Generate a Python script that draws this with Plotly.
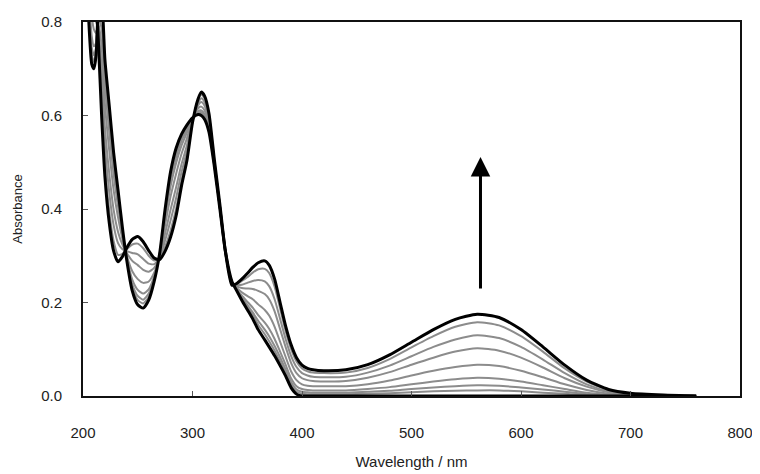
import plotly.graph_objects as go

wavelength = [200, 204, 208, 210, 212, 214, 217, 220, 224, 228,
              232, 236, 240, 245, 250, 255, 260, 265, 270, 275,
              280, 285, 290, 295, 300, 305, 308, 311, 315, 320,
              325, 330, 336, 340, 345, 350, 355, 360, 366, 370,
              375, 380, 385, 390, 395, 400, 405, 410, 420, 440,
              460, 480, 500, 520, 540, 560, 580, 600, 620, 640,
              660, 680, 700, 730, 760]

initial = [1.00, 0.86, 0.71, 0.70, 0.73, 0.82, 0.84, 0.72, 0.62, 0.52,
           0.44, 0.36, 0.29, 0.225, 0.195, 0.188, 0.205, 0.245, 0.305, 0.40,
           0.48, 0.53, 0.56, 0.58, 0.595, 0.602, 0.600, 0.592, 0.565, 0.49,
           0.40, 0.31, 0.245, 0.227, 0.205, 0.185, 0.165, 0.142, 0.120, 0.105,
           0.086, 0.065, 0.043, 0.018, 0.004, 0.0, 0.0, 0.0, 0.0, 0.0,
           0.0, 0.0, 0.0, 0.0, 0.0, 0.0, 0.0, 0.0, 0.0, 0.0,
           0.0, 0.0, 0.0, 0.0, 0.0]

grey1 = [1.014, 0.877, 0.729, 0.715, 0.738, 0.816, 0.823, 0.703, 0.603, 0.505,
         0.429, 0.356, 0.292, 0.233, 0.205, 0.198, 0.212, 0.249, 0.304, 0.394,
         0.470, 0.520, 0.552, 0.575, 0.594, 0.604, 0.604, 0.596, 0.568, 0.491,
         0.401, 0.310, 0.244, 0.228, 0.208, 0.190, 0.173, 0.152, 0.132, 0.117,
         0.097, 0.074, 0.050, 0.024, 0.009, 0.005, 0.004, 0.004, 0.004, 0.004,
         0.005, 0.006, 0.008, 0.010, 0.011, 0.012, 0.012, 0.010, 0.007, 0.005,
         0.002, 0.001, 0.000, 0.000, 0.000]

grey2 = [1.026, 0.891, 0.745, 0.729, 0.746, 0.812, 0.809, 0.688, 0.588, 0.493,
         0.420, 0.352, 0.294, 0.239, 0.214, 0.206, 0.219, 0.252, 0.303, 0.388,
         0.462, 0.511, 0.546, 0.570, 0.594, 0.606, 0.607, 0.599, 0.570, 0.492,
         0.401, 0.310, 0.244, 0.229, 0.211, 0.195, 0.179, 0.161, 0.142, 0.128,
         0.107, 0.083, 0.057, 0.030, 0.014, 0.009, 0.008, 0.007, 0.007, 0.007,
         0.009, 0.011, 0.015, 0.018, 0.021, 0.023, 0.022, 0.018, 0.014, 0.009,
         0.004, 0.002, 0.001, 0.000, 0.000]

grey3 = [1.044, 0.913, 0.769, 0.748, 0.756, 0.807, 0.787, 0.665, 0.565, 0.474,
         0.406, 0.346, 0.296, 0.249, 0.227, 0.219, 0.228, 0.256, 0.302, 0.380,
         0.449, 0.498, 0.536, 0.564, 0.593, 0.609, 0.611, 0.603, 0.574, 0.493,
         0.402, 0.310, 0.243, 0.230, 0.215, 0.202, 0.189, 0.173, 0.157, 0.144,
         0.122, 0.095, 0.067, 0.038, 0.021, 0.015, 0.013, 0.012, 0.012, 0.012,
         0.015, 0.019, 0.025, 0.031, 0.036, 0.039, 0.037, 0.031, 0.023, 0.015,
         0.007, 0.003, 0.001, 0.000, 0.000]

grey4 = [1.076, 0.951, 0.813, 0.784, 0.776, 0.797, 0.749, 0.625, 0.525, 0.440,
         0.382, 0.336, 0.300, 0.267, 0.250, 0.242, 0.245, 0.264, 0.300, 0.366,
         0.427, 0.475, 0.518, 0.552, 0.591, 0.615, 0.619, 0.611, 0.580, 0.496,
         0.404, 0.310, 0.242, 0.232, 0.222, 0.214, 0.207, 0.196, 0.184, 0.172,
         0.148, 0.116, 0.084, 0.053, 0.034, 0.025, 0.022, 0.021, 0.021, 0.021,
         0.025, 0.033, 0.044, 0.054, 0.062, 0.067, 0.064, 0.054, 0.040, 0.025,
         0.013, 0.005, 0.002, 0.001, 0.000]

grey5 = [1.116, 0.999, 0.867, 0.828, 0.800, 0.785, 0.701, 0.575, 0.475, 0.398,
         0.351, 0.324, 0.306, 0.289, 0.280, 0.270, 0.266, 0.274, 0.297, 0.348,
         0.399, 0.446, 0.496, 0.537, 0.589, 0.621, 0.629, 0.621, 0.588, 0.499,
         0.406, 0.310, 0.240, 0.235, 0.231, 0.230, 0.229, 0.225, 0.218, 0.207,
         0.181, 0.143, 0.105, 0.071, 0.049, 0.038, 0.034, 0.032, 0.031, 0.032,
         0.039, 0.051, 0.067, 0.082, 0.095, 0.102, 0.097, 0.082, 0.061, 0.038,
         0.020, 0.008, 0.003, 0.001, 0.000]

grey6 = [1.148, 1.038, 0.910, 0.863, 0.819, 0.776, 0.662, 0.535, 0.435, 0.365,
         0.327, 0.314, 0.310, 0.306, 0.303, 0.293, 0.283, 0.282, 0.295, 0.333,
         0.376, 0.423, 0.479, 0.525, 0.588, 0.626, 0.637, 0.629, 0.595, 0.501,
         0.407, 0.310, 0.239, 0.237, 0.238, 0.242, 0.246, 0.248, 0.245, 0.235,
         0.207, 0.165, 0.122, 0.086, 0.062, 0.049, 0.044, 0.041, 0.040, 0.041,
         0.050, 0.065, 0.085, 0.105, 0.121, 0.130, 0.124, 0.105, 0.078, 0.049,
         0.025, 0.010, 0.004, 0.001, 0.000]

grey7 = [1.180, 1.076, 0.953, 0.898, 0.838, 0.766, 0.624, 0.495, 0.395, 0.331,
         0.302, 0.304, 0.314, 0.324, 0.326, 0.316, 0.300, 0.290, 0.293, 0.319,
         0.354, 0.400, 0.461, 0.513, 0.586, 0.632, 0.645, 0.637, 0.601, 0.504,
         0.409, 0.310, 0.238, 0.239, 0.246, 0.254, 0.264, 0.271, 0.272, 0.263,
         0.234, 0.187, 0.139, 0.101, 0.074, 0.059, 0.053, 0.050, 0.049, 0.050,
         0.060, 0.079, 0.104, 0.128, 0.148, 0.158, 0.151, 0.128, 0.095, 0.059,
         0.031, 0.013, 0.005, 0.002, 0.000]

final = [1.20, 1.10, 0.98, 0.92, 0.85, 0.76, 0.60, 0.47, 0.37, 0.31,
         0.287, 0.298, 0.317, 0.335, 0.341, 0.330, 0.311, 0.295, 0.292, 0.310,
         0.340, 0.385, 0.450, 0.505, 0.585, 0.635, 0.650, 0.642, 0.605, 0.505,
         0.410, 0.310, 0.237, 0.240, 0.250, 0.262, 0.275, 0.285, 0.289, 0.280,
         0.250, 0.200, 0.150, 0.110, 0.082, 0.066, 0.059, 0.056, 0.054, 0.056,
         0.067, 0.088, 0.115, 0.142, 0.164, 0.175, 0.168, 0.142, 0.105, 0.066,
         0.034, 0.014, 0.006, 0.002, 0.000]

grey_series = [grey1, grey2, grey3, grey4, grey5, grey6, grey7]
x_ticks = [200, 300, 400, 500, 600, 700, 800]
y_ticks = [0.0, 0.2, 0.4, 0.6, 0.8]

fig = go.Figure()
for s in grey_series:
    fig.add_trace(go.Scatter(x=wavelength, y=s, mode="lines",
                             line=dict(color="#8c8c8c", width=2, shape="spline", smoothing=0.6),
                             showlegend=False, hoverinfo="skip"))
for s in [initial, final]:
    fig.add_trace(go.Scatter(x=wavelength, y=s, mode="lines",
                             line=dict(color="#000000", width=3, shape="spline", smoothing=0.6),
                             showlegend=False, hoverinfo="skip"))

font_family = "Liberation Sans, Arial, sans-serif"

fig.add_annotation(x=563, y=0.511, ax=563, ay=0.227, xref="x", yref="y",
                   axref="x", ayref="y", showarrow=True, arrowhead=2,
                   arrowsize=1.3, arrowwidth=3, arrowcolor="#000000", text="")

# page body has an 8px margin, so the figure is sized to fit the 760x474 window
fig.update_layout(
    width=752, height=466,
    margin=dict(l=75, r=20, t=14, b=78, autoexpand=False),
    paper_bgcolor="white", plot_bgcolor="white",
    font=dict(family=font_family, size=14, color="#222222"),
    xaxis=dict(range=[200, 800], tickvals=x_ticks, ticks="inside", ticklen=5,
               tickcolor="#555555", showline=True, linecolor="#111111", linewidth=2,
               mirror=True, showgrid=False, zeroline=False, automargin=False,
               ticklabelstandoff=22, tickfont=dict(size=15),
               title=dict(text="Wavelength / nm", standoff=16, font=dict(size=15))),
    yaxis=dict(range=[0, 0.8], tickvals=y_ticks, tickformat=".1f", ticks="inside",
               ticklen=5, tickcolor="#555555", showline=True, linecolor="#111111",
               linewidth=2, mirror=True, showgrid=False, zeroline=False, automargin=False,
               ticklabelstandoff=16, tickfont=dict(size=15),
               title=dict(text="Absorbance", standoff=16, font=dict(size=13))),
)

fig.write_html("out.html")
